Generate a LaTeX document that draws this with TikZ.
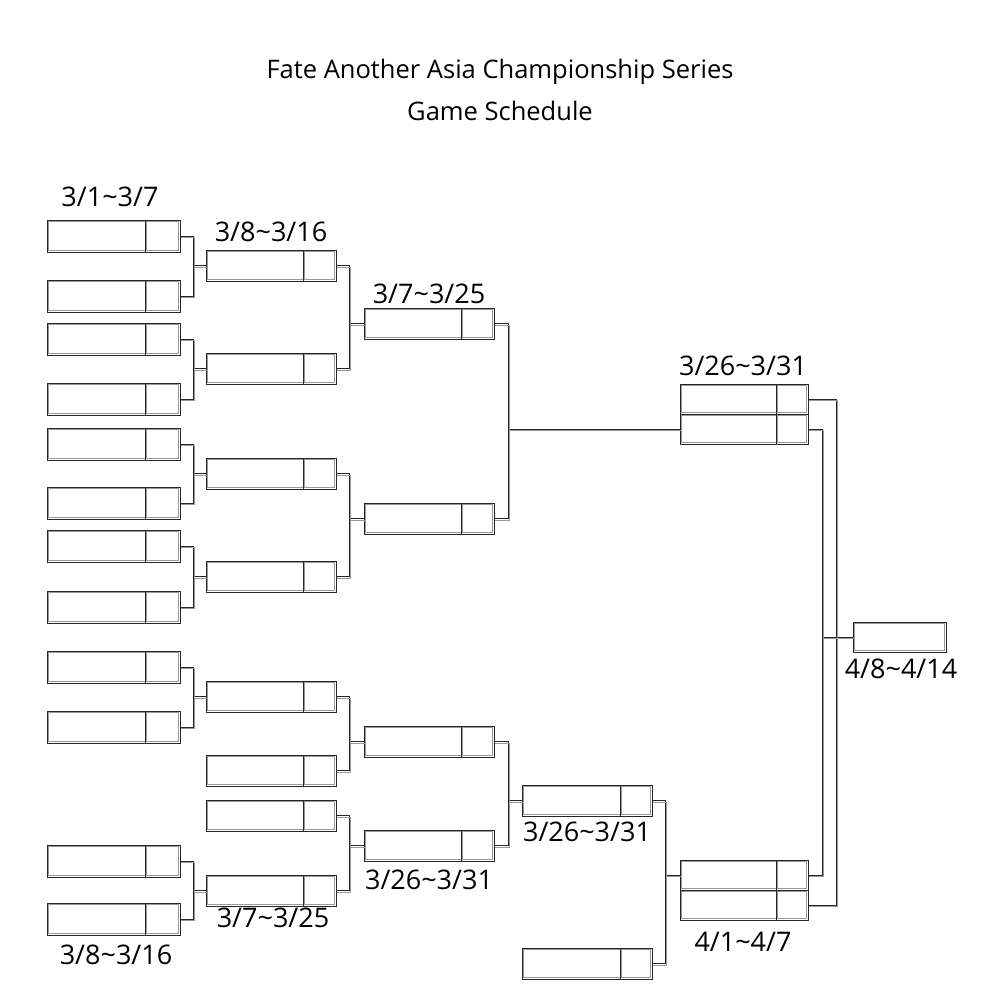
\documentclass[tikz,border=0pt]{standalone}
\usepackage{fontspec}
\setmainfont{Open Sans}
\usetikzlibrary{positioning,calc}

\tikzset{
    rim/.style = {draw = black!85, line width = 0.5pt},
    shade/.style = {draw = black!40, line width = 0.6pt},
    offset/.style = {shade, transform canvas = {shift = {(1.4pt, -1.4pt)}}},
    slot/.style = {rim, anchor = north west, inner sep = 0pt, outer sep = 0pt, minimum height = 32pt},
    date/.style = {font = \fontsize{27}{31}\selectfont},
    heading/.style = {font = \fontsize{25.5}{30}\selectfont}
}

\newcommand{\tld}{\textasciitilde}
\newcommand{\inset}[2]{%
    \draw[shade] ($(#1.north west) + (1.5, 1.5)$) rectangle ($(#1.south east) + (-1.5, -1.5)$);
    \draw[rim] ($(#1.north east) + (-#2, 0)$) -- ($(#1.south east) + (-#2, 0)$);
    \draw[shade] ($(#1.north east) + (-#2 + 1.5, 1.5)$) -- ($(#1.south east) + (-#2 + 1.5, -1.5)$);
}

\begin{document}
\begin{tikzpicture}[x = 1pt, y = -1pt]

        \useasboundingbox (0, 0) rectangle (1000, 1000);

        \node[heading] (title) at (500, 72) {Fate Another Asia Championship Series};
        \node[heading] (subtitle) at (500, 111) {Game Schedule};

        % first round
        \foreach \n/\y in {1/220, 2/280, 3/323, 4/383, 5/428, 6/487, 7/530, 8/591, 9/651, 10/711, 11/845, 12/903}{
                \node[slot, minimum width = 133pt] (a\n) at (47, \y) {};
                \inset{a\n}{35}
            }

        % second round
        \foreach \n/\y in {1/250, 2/353, 3/458, 4/561, 5/681, 6/755, 7/800, 8/875}{
                \node[slot, minimum width = 130pt, minimum height = 31pt] (b\n) at (206, \y) {};
                \inset{b\n}{33}
            }

        % third round
        \foreach \n/\y in {1/308, 2/503, 3/726, 4/830}{
                \node[slot, minimum width = 130pt, minimum height = 31pt] (c\n) at (364, \y) {};
                \inset{c\n}{33}
            }

        % fourth round, lower half
        \foreach \n/\y in {1/785, 2/948}{
                \node[slot, minimum width = 130pt, minimum height = 31pt] (d\n) at (522, \y) {};
                \inset{d\n}{32}
            }

        % semi finals
        \foreach \s/\y in {u/384, l/860}{
                \node[slot, minimum width = 128pt, minimum height = 30pt] (s\s a) at (680, \y) {};
                \node[slot, minimum width = 128pt, minimum height = 30pt] (s\s b) at (680, \y + 30) {};
                \inset{s\s a}{32}
                \inset{s\s b}{32}
            }

        % final
        \node[slot, minimum width = 93pt, minimum height = 30pt] (fin) at (853, 622) {};
        \draw[shade] ($(fin.north west) + (1.5, 1.5)$) rectangle ($(fin.south east) + (-1.5, -1.5)$);

        % brackets
        \foreach \p/\q/\w/\d in {a1/a2/b1/13, a3/a4/b2/13, a5/a6/b3/13, a7/a8/b4/13, a9/a10/b5/13, a11/a12/b8/13,
                b1/b2/c1/13, b3/b4/c2/13, b5/b6/c3/13, b7/b8/c4/13,
                c1/c2/sub/14, c3/c4/d1/14, d1/d2/sla/13}{
                \coordinate (f\p) at ($(\p.east) + (\d, 0)$);
                \draw[rim] (\p.east) -- (f\p) |- (\q.east);
                \draw[rim] (\w.west) -- (\w.west -| f\p);
                \draw[offset] (\p.east) -- (f\p) |- (\q.east);
                \draw[offset] (\w.west) -- (\w.west -| f\p);
            }

        \coordinate (gu) at ($(sua.east) + (28, 0)$);
        \coordinate (gl) at ($(sub.east) + (14, 0)$);
        \foreach \look in {rim, offset}{
                \draw[\look] (sua.east) -- (gu) |- (slb.east);
                \draw[\look] (sub.east) -- (gl) |- (sla.east);
                \draw[\look] (fin.west) -- (fin.west -| gl);
            }

        % dates
        \node[date] (t1) at (110, 197) {3/1\tld3/7};
        \node[date] (t2) at (271, 232) {3/8\tld3/16};
        \node[date] (t3) at (429, 294) {3/7\tld3/25};
        \node[date] (t4) at (743, 366) {3/26\tld3/31};
        \node[date] (t5) at (901, 669) {4/8\tld4/14};
        \node[date] (t6) at (587, 832) {3/26\tld3/31};
        \node[date] (t7) at (743, 942) {4/1\tld4/7};
        \node[date] (t8) at (429, 880) {3/26\tld3/31};
        \node[date] (t9) at (273, 918) {3/7\tld3/25};
        \node[date] (t10) at (116, 955) {3/8\tld3/16};

    \end{tikzpicture}
\end{document}
